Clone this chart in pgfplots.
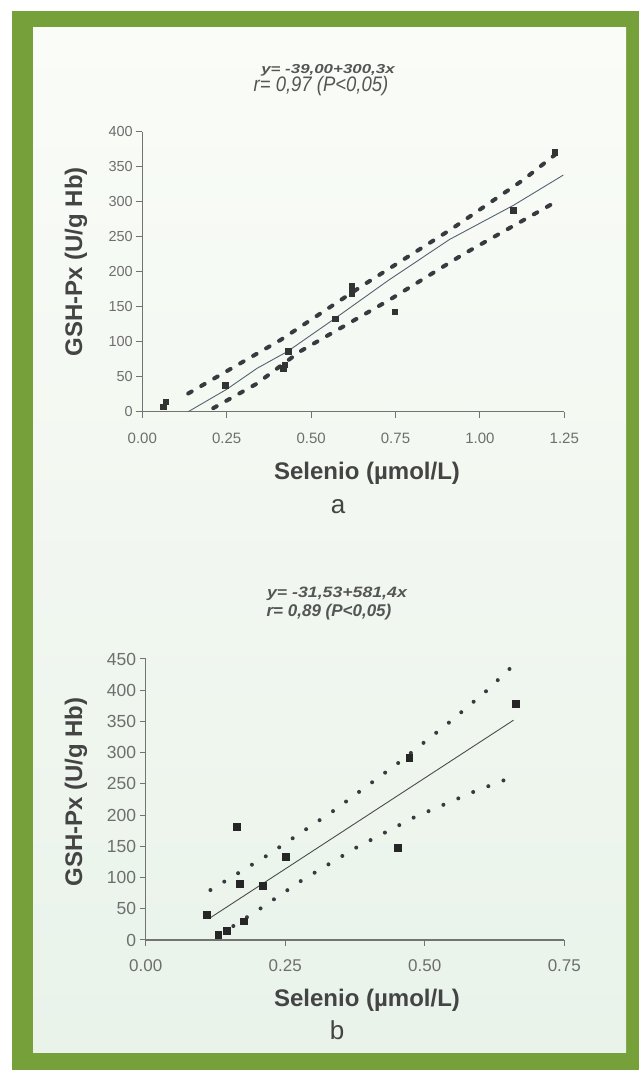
\documentclass[border=0pt]{standalone}
\usepackage{pgfplots}
\pgfplotsset{compat=1.18}
\usepackage{fontspec}
\setmainfont{Liberation Sans}

\definecolor{framegreen}{RGB}{118,160,58}
\definecolor{paneltop}{RGB}{250,252,247}
\definecolor{panelbot}{RGB}{233,243,234}
\definecolor{ticktext}{RGB}{110,110,110}
\definecolor{labtext}{RGB}{68,68,68}
\definecolor{eqtext}{RGB}{85,85,85}
\definecolor{band}{RGB}{55,58,62}
\definecolor{fitline}{RGB}{85,98,115}

\newcommand{\fs}[1]{\fontsize{#1}{#1}\selectfont}

\pgfplotsset{
  scatterax/.style={
    scale only axis,
    axis lines*=left,
    tick align=outside,
    major tick length=6pt,
    tick style={black!55, line width=1pt},
    axis line style={black!55, line width=1.4pt},
    ticklabel style={text=ticktext},
    /pgf/number format/assume math mode=true,
    xticklabel style={/pgf/number format/fixed, /pgf/number format/fixed zerofill, /pgf/number format/precision=2},
    yticklabel style={/pgf/number format/fixed, /pgf/number format/precision=0},
    clip=false,
  }
}

\begin{document}
\begin{tikzpicture}[x=1pt,y=1pt]
% page and frame
\fill[white] (0,0) rectangle (639,1070);
\fill[framegreen] (12,0) rectangle (639,1058.5);
\shade[top color=paneltop, bottom color=panelbot] (33,17) rectangle (626,1042);

% ---------- chart a ----------
\begin{axis}[scatterax,
  at={(142.3pt,658.3pt)}, anchor=south west,
  width=422pt, height=280pt,
  xmin=0, xmax=1.25, ymin=0, ymax=400,
  xtick={0,0.25,0.5,0.75,1,1.25},
  ytick={0,50,100,150,200,250,300,350,400},
  xticklabel style={font=\fs{15}, yshift=-12pt},
  yticklabel style={font=\fs{14.5}},
]
% confidence bands
\addplot[band, line width=4pt, line cap=round, dash pattern=on 4pt off 11pt] coordinates {
  (0.136,26) (0.408,102) (0.655,181) (0.916,261) (1.128,331) (1.225,368)
};
\addplot[band, line width=4pt, line cap=round, dash pattern=on 4pt off 11pt] coordinates {
  (0.210,5) (0.339,40) (0.467,86) (0.733,160) (0.951,225) (1.222,299)
};
% regression line
\addplot[fitline, line width=0.9pt] coordinates {
  (0.136,0) (0.25,32) (0.34,62) (0.43,86) (0.57,133) (0.73,188)
  (0.91,246) (1.10,295) (1.247,338)
};
% observations
\addplot[only marks, mark=square*, mark size=2.8pt, black!80] coordinates {
  (0.062,7) (0.069,14) (0.245,38) (0.418,62) (0.422,67) (0.432,86)
  (0.571,133) (0.620,179) (0.620,169) (0.748,143) (1.099,288) (1.222,371)
};
\end{axis}

% ---------- chart b ----------
\begin{axis}[scatterax,
  at={(145.7pt,130pt)}, anchor=south west,
  width=418.6pt, height=281pt,
  xmin=0, xmax=0.75, ymin=0, ymax=450,
  xtick={0,0.25,0.5,0.75},
  ytick={0,50,100,150,200,250,300,350,400,450},
  xticklabel style={font=\fs{17}, yshift=-10pt},
  yticklabel style={font=\fs{17.5}},
]
% confidence bands (dotted)
\addplot[band, line width=4pt, line cap=round, dash pattern=on 0pt off 16.2pt] coordinates {
  (0.116,80) (0.216,134.5) (0.336,206.6) (0.454,284.5) (0.544,348.6) (0.611,399.3) (0.655,436.7)
};
\addplot[band, line width=4pt, line cap=round, dash pattern=on 0pt off 16.2pt] coordinates {
  (0.157,22.4) (0.206,50.7) (0.278,94.5) (0.378,148.4) (0.481,196.4) (0.588,237.5) (0.643,256.2)
};
% regression line
\addplot[black!70, line width=0.9pt] coordinates {(0.113,34) (0.659,352)};
% observations
\addplot[only marks, mark=square*, mark size=3.4pt, black!85] coordinates {
  (0.110,40) (0.130,8) (0.145,15) (0.175,30) (0.163,181) (0.169,90)
  (0.210,87) (0.251,133) (0.451,148) (0.472,292) (0.663,378)
};
\end{axis}

% ---------- texts ----------
\node[text=eqtext, font=\fs{13}\bfseries\itshape, xscale=1.3, anchor=base] at (328,996) {y= -39,00+300,3x};
\node[text=eqtext, font=\fs{21}\itshape, xscale=0.88, anchor=base] at (321,978) {r= 0,97 (P<0,05)};
\node[text=labtext, font=\fs{24}\bfseries, rotate=90] at (76,808) {GSH-Px (U/g Hb)};
\node[text=labtext, font=\fs{24}\bfseries, anchor=base] at (367,590) {Selenio (µmol/L)};
\node[text=labtext, font=\fs{26}, anchor=base] at (338,556) {a};

\node[text=eqtext, font=\fs{15}\bfseries\itshape, xscale=1.18, anchor=base] at (337,472) {y= -31,53+581,4x};
\node[text=eqtext, font=\fs{17}\bfseries\itshape, anchor=base] at (329,453) {r= 0,89 (P<0,05)};
\node[text=labtext, font=\fs{24}\bfseries, rotate=90] at (76,278) {GSH-Px (U/g Hb)};
\node[text=labtext, font=\fs{24}\bfseries, anchor=base] at (367,63) {Selenio (µmol/L)};
\node[text=labtext, font=\fs{26}, anchor=base] at (337,30) {b};
\end{tikzpicture}
\end{document}
